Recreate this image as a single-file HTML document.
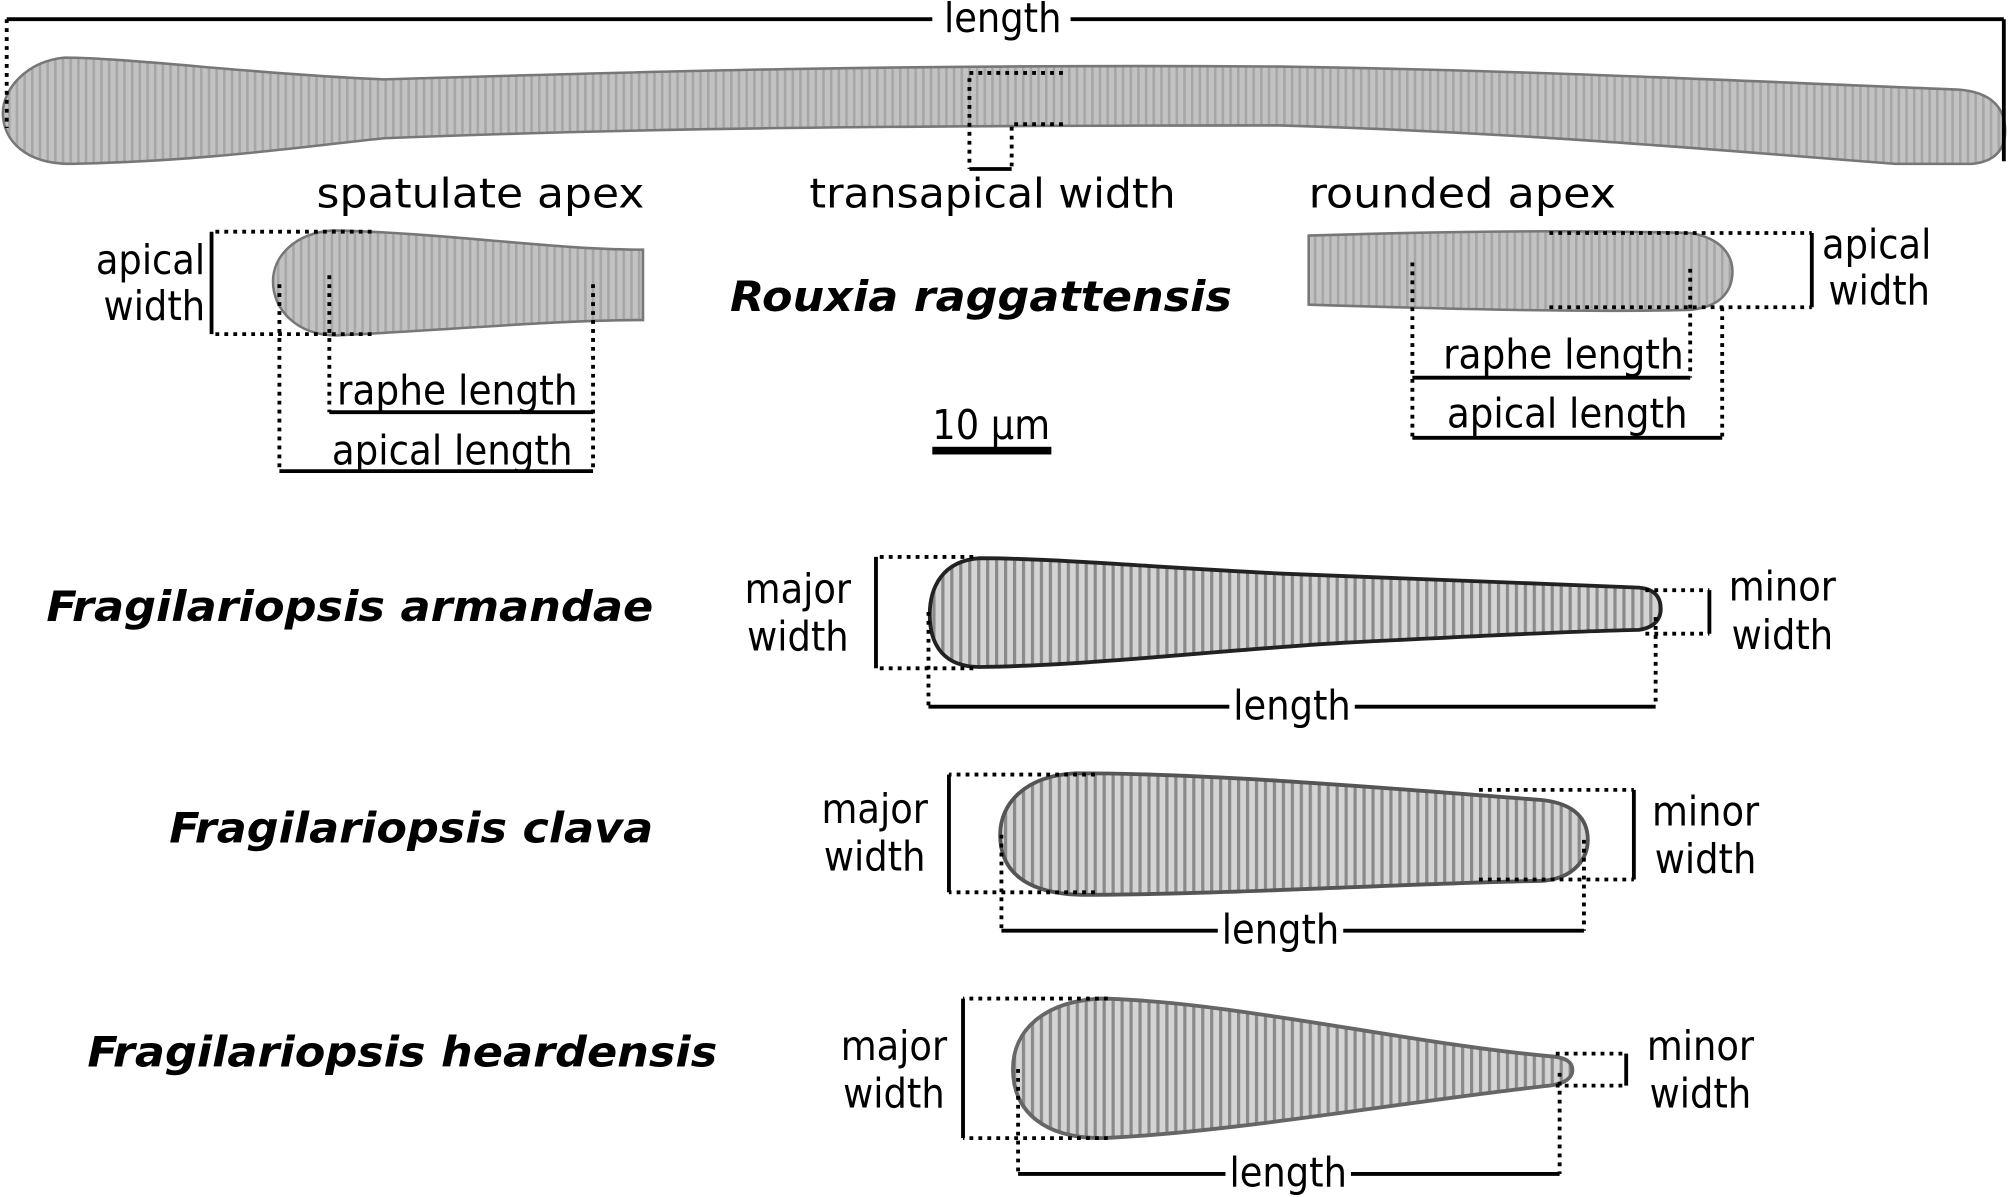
<!DOCTYPE html>
<html><head><meta charset="utf-8"><style>
html,body{margin:0;padding:0;background:#fff;}
svg{display:block;}
text{font-family:"DejaVu Sans Condensed","DejaVu Sans","Liberation Sans",sans-serif;font-size:32px;fill:#000;}
.sp{font-family:"DejaVu Sans","Liberation Sans",sans-serif;font-weight:bold;font-style:italic;font-size:33px;}
.s{stroke:#000;stroke-width:3;fill:none;}
.d{stroke:#000;stroke-width:3;fill:none;stroke-dasharray:3,4;}
.dia{fill:url(#str);stroke:#777;stroke-width:2;}
.diak{fill:url(#str2);stroke:#222;stroke-width:3;}
</style></head><body>
<svg width="2008" height="1197" viewBox="0 0 1568 935" xmlns="http://www.w3.org/2000/svg">
<defs>
<pattern id="str" width="6" height="10" patternUnits="userSpaceOnUse">
<rect width="6" height="10" fill="#c2c2c2"/><rect width="2" height="10" fill="#a6a6a6"/></pattern>
<pattern id="str2" width="7" height="10" patternUnits="userSpaceOnUse">
<rect width="7" height="10" fill="#d4d4d4"/><rect width="2.5" height="10" fill="#8a8a8a"/></pattern>
</defs>

<!-- Rouxia full -->
<path class="dia" d="M50,45 C20,48 2,70 2,88 C2,110 20,128 55,128 C160,126 240,114 300,108 C500,100 700,98 1000,98 C1200,104 1350,118 1480,128 L1540,128 C1560,126 1566,115 1566,102 C1566,84 1555,72 1530,70 C1400,65 1200,55 1000,52 C700,50 500,56 300,62 C200,58 100,45 50,45 Z"/>
<line class="s" x1="5" y1="15" x2="1565" y2="15"/>
<rect x="728" y="0" width="108" height="30" fill="#fff"/>
<text x="783" y="25" text-anchor="middle">length</text>
<line class="d" x1="5" y1="15" x2="5" y2="100"/>
<line class="s" x1="1565" y1="15" x2="1565" y2="126"/>
<!-- transapical -->
<path class="d" d="M830,57 H757 V132"/>
<path class="d" d="M830,97 H790 V132"/>
<line class="s" x1="757" y1="132" x2="790" y2="132"/>
<text x="247" y="162" textLength="256" lengthAdjust="spacingAndGlyphs">spatulate apex</text>
<text x="632" y="162" textLength="286" lengthAdjust="spacingAndGlyphs">transapical width</text>
<text x="1022" y="162" textLength="240" lengthAdjust="spacingAndGlyphs">rounded apex</text>

<!-- spatulate crop -->
<path class="dia" d="M260,180 C230,182 213,200 213,220 C213,242 232,262 262,262 C350,258 430,250 502,250 L502,195 C430,195 350,182 260,180 Z"/>
<path class="d" d="M290,181 H165 M290,261 H165"/>
<line class="s" x1="165" y1="181" x2="165" y2="261"/>
<text x="160" y="214" text-anchor="end">apical</text>
<text x="160" y="250" text-anchor="end">width</text>
<line class="d" x1="257" y1="215" x2="257" y2="322"/>
<line class="d" x1="463" y1="222" x2="463" y2="368"/>
<line class="d" x1="218" y1="222" x2="218" y2="368"/>
<line class="s" x1="257" y1="322" x2="463" y2="322"/>
<line class="s" x1="218" y1="368" x2="463" y2="368"/>
<text x="263" y="316" textLength="188" lengthAdjust="spacingAndGlyphs">raphe length</text>
<text x="259" y="363" textLength="188" lengthAdjust="spacingAndGlyphs">apical length</text>

<text class="sp" x="570" y="243" textLength="392" lengthAdjust="spacingAndGlyphs">Rouxia raggattensis</text>
<text x="728" y="343" textLength="92" lengthAdjust="spacingAndGlyphs">10 µm</text>
<rect x="728" y="349" width="93" height="6" fill="#000"/>

<!-- rounded crop -->
<path class="dia" d="M1022,184 C1150,180 1250,180 1320,182 C1345,186 1353,200 1353,212 C1353,228 1343,240 1320,242 C1250,244 1150,242 1022,238 Z"/>
<path class="d" d="M1210,182 H1415 M1210,240 H1415"/>
<line class="s" x1="1415" y1="182" x2="1415" y2="240"/>
<text x="1423" y="202">apical</text>
<text x="1428" y="238">width</text>
<line class="d" x1="1103" y1="205" x2="1103" y2="342"/>
<line class="d" x1="1320" y1="210" x2="1320" y2="295"/>
<line class="d" x1="1345" y1="240" x2="1345" y2="342"/>
<line class="s" x1="1103" y1="295" x2="1320" y2="295"/>
<line class="s" x1="1103" y1="342" x2="1345" y2="342"/>
<text x="1127" y="288" textLength="188" lengthAdjust="spacingAndGlyphs">raphe length</text>
<text x="1130" y="334" textLength="188" lengthAdjust="spacingAndGlyphs">apical length</text>

<!-- F. armandae -->
<text class="sp" x="36" y="485" textLength="474" lengthAdjust="spacingAndGlyphs">Fragilariopsis armandae</text>
<path class="diak" d="M765,436 C735,438 726,460 726,480 C726,505 738,521 765,521 C850,520 950,508 1050,502 C1150,497 1230,493 1280,492 C1295,490 1297,480 1297,476 C1297,466 1292,460 1280,459 C1200,455 1100,452 1000,448 C900,443 820,436 765,436 Z"/>
<path class="d" d="M760,435 H684 M760,522 H684"/>
<line class="s" x1="684" y1="435" x2="684" y2="522"/>
<text x="623" y="471" text-anchor="middle">major</text>
<text x="623" y="508" text-anchor="middle">width</text>
<path class="d" d="M1285,461 H1335 M1285,495 H1335"/>
<line class="s" x1="1335" y1="461" x2="1335" y2="495"/>
<text x="1392" y="469" text-anchor="middle">minor</text>
<text x="1392" y="507" text-anchor="middle">width</text>
<line class="d" x1="725" y1="478" x2="725" y2="552"/>
<line class="d" x1="1293" y1="482" x2="1293" y2="552"/>
<line class="s" x1="725" y1="552" x2="960" y2="552"/>
<line class="s" x1="1058" y1="552" x2="1293" y2="552"/>
<text x="1009" y="562" text-anchor="middle">length</text>

<!-- F. clava -->
<text class="sp" x="132" y="658" textLength="378" lengthAdjust="spacingAndGlyphs">Fragilariopsis clava</text>
<path class="diak" style="stroke:#555" d="M840,604 C800,606 781,628 781,652 C781,680 800,698 845,699 C950,699 1100,690 1205,688 C1230,686 1240,670 1240,656 C1240,640 1230,628 1205,625 C1100,617 950,604 840,604 Z"/>
<path class="d" d="M855,605 H741 M855,697 H741"/>
<line class="s" x1="741" y1="605" x2="741" y2="697"/>
<text x="683" y="643" text-anchor="middle">major</text>
<text x="683" y="680" text-anchor="middle">width</text>
<path class="d" d="M1155,617 H1276 M1155,687 H1276"/>
<line class="s" x1="1276" y1="617" x2="1276" y2="687"/>
<text x="1332" y="645" text-anchor="middle">minor</text>
<text x="1332" y="682" text-anchor="middle">width</text>
<line class="d" x1="782" y1="652" x2="782" y2="727"/>
<line class="d" x1="1237" y1="656" x2="1237" y2="727"/>
<line class="s" x1="782" y1="727" x2="951" y2="727"/>
<line class="s" x1="1049" y1="727" x2="1237" y2="727"/>
<text x="1000" y="737" text-anchor="middle">length</text>

<!-- F. heardensis -->
<text class="sp" x="68" y="833" textLength="492" lengthAdjust="spacingAndGlyphs">Fragilariopsis heardensis</text>
<path class="diak" style="stroke:#666" d="M860,780 C815,782 791,805 791,835 C791,868 815,889 860,889 C960,885 1100,860 1210,848 C1225,846 1228,840 1228,836 C1228,830 1224,826 1210,825 C1100,815 960,782 860,780 Z"/>
<path class="d" d="M865,780 H752 M865,889 H752"/>
<line class="s" x1="752" y1="780" x2="752" y2="889"/>
<text x="698" y="828" text-anchor="middle">major</text>
<text x="698" y="865" text-anchor="middle">width</text>
<path class="d" d="M1215,823 H1270 M1215,848 H1270"/>
<line class="s" x1="1270" y1="823" x2="1270" y2="848"/>
<text x="1328" y="828" text-anchor="middle">minor</text>
<text x="1328" y="865" text-anchor="middle">width</text>
<line class="d" x1="795" y1="835" x2="795" y2="917"/>
<line class="d" x1="1218" y1="838" x2="1218" y2="917"/>
<line class="s" x1="795" y1="917" x2="957" y2="917"/>
<line class="s" x1="1055" y1="917" x2="1218" y2="917"/>
<text x="1006" y="927" text-anchor="middle">length</text>
</svg>
</body></html>
